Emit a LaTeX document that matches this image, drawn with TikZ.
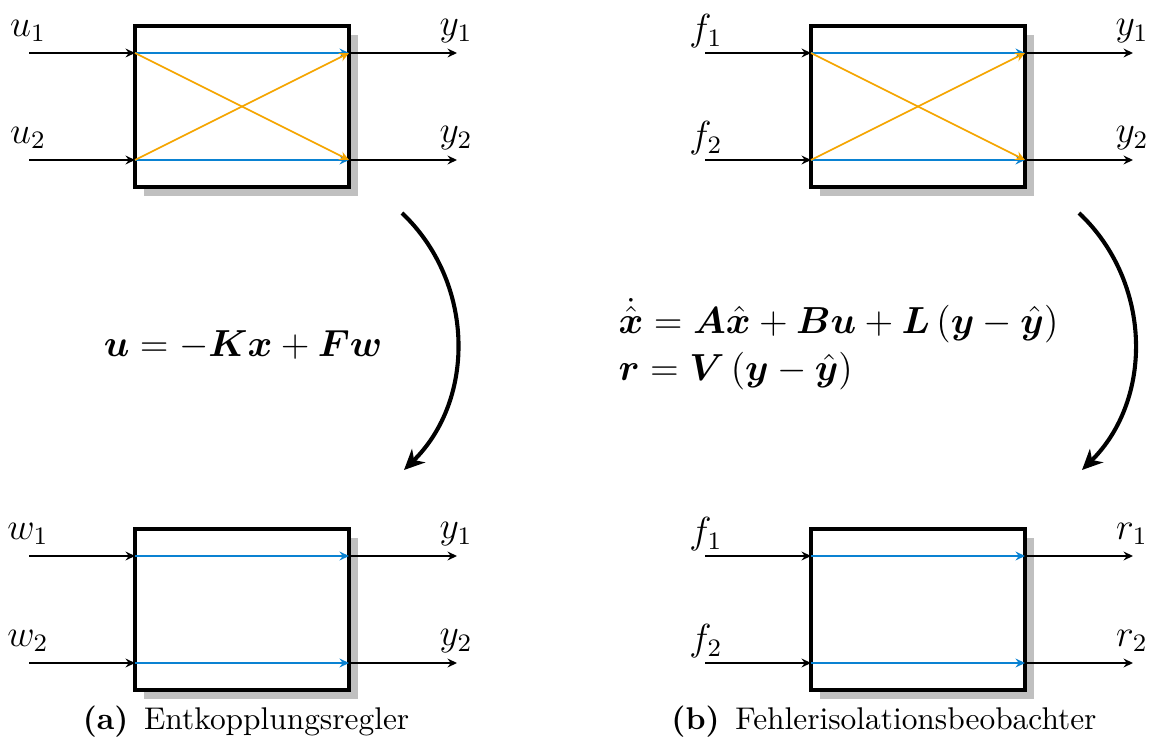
\documentclass[tikz,border=0pt]{standalone}
\usepackage{amsmath}
\usepackage{bm}
\usetikzlibrary{arrows.meta}
\definecolor{sigblue}{RGB}{10,130,210}
\definecolor{sigorange}{RGB}{245,165,0}
\definecolor{shadowgray}{RGB}{192,192,192}
\tikzset{
  sys/.style={draw=black, line width=1.3pt, fill=white, minimum width=214*0.3185pt, minimum height=161*0.3185pt, inner sep=0pt, outer sep=0pt},
  shadowbox/.style={fill=shadowgray, draw=none, minimum width=214*0.3185pt, minimum height=161*0.3185pt, inner sep=0pt, outer sep=0pt},
  sig/.style={line width=0.55pt, -{Stealth[length=3pt,width=2.8pt,inset=1pt]}},
  bluesig/.style={sig, draw=sigblue},
  orangesig/.style={sig, draw=sigorange},
  lab/.style={inner sep=0pt, font=\large},
  bigarrow/.style={line width=1.3pt, -{Stealth[length=6.5pt,width=6pt,inset=2pt]}},
}
\begin{document}
\begin{tikzpicture}[x=0.3185pt, y=-0.3185pt]
\useasboundingbox (0,0) rectangle (1151,742);

% ---------- (a) top ----------
\node[shadowbox] (as1) at (251,115.5) {};
\node[sys] (a1) at (242,106.5) {};
\coordinate (a1i1) at (135,53); \coordinate (a1i2) at (135,160);
\coordinate (a1o1) at (349,53); \coordinate (a1o2) at (349,160);
\coordinate (a1s1) at (29,53); \coordinate (a1s2) at (29,160);
\coordinate (a1e1) at (457,53); \coordinate (a1e2) at (457,160);
\draw[sig] (a1s1) -- (a1i1);
\draw[sig] (a1s2) -- (a1i2);
\draw[sig] (a1o1) -- (a1e1);
\draw[sig] (a1o2) -- (a1e2);
\draw[bluesig] (a1i1) -- (a1o1);
\draw[bluesig] (a1i2) -- (a1o2);
\draw[orangesig] (a1i1) -- (a1o2);
\draw[orangesig] (a1i2) -- (a1o1);
\node[lab] (la1u1) at (28,31) {$u_1$};
\node[lab] (la1u2) at (28,138) {$u_2$};
\node[lab] (la1y1) at (456,31) {$y_1$};
\node[lab] (la1y2) at (456,138) {$y_2$};

% ---------- (a) bottom ----------
\node[shadowbox] (as2) at (251,618.5) {};
\node[sys] (a2) at (242,609.5) {};
\coordinate (a2i1) at (135,556); \coordinate (a2i2) at (135,663);
\coordinate (a2o1) at (349,556); \coordinate (a2o2) at (349,663);
\coordinate (a2s1) at (29,556); \coordinate (a2s2) at (29,663);
\coordinate (a2e1) at (457,556); \coordinate (a2e2) at (457,663);
\draw[sig] (a2s1) -- (a2i1);
\draw[sig] (a2s2) -- (a2i2);
\draw[sig] (a2o1) -- (a2e1);
\draw[sig] (a2o2) -- (a2e2);
\draw[bluesig] (a2i1) -- (a2o1);
\draw[bluesig] (a2i2) -- (a2o2);
\node[lab] (la2w1) at (28,534) {$w_1$};
\node[lab] (la2w2) at (28,641) {$w_2$};
\node[lab] (la2y1) at (456,534) {$y_1$};
\node[lab] (la2y2) at (456,641) {$y_2$};

% ---------- (b) top ----------
\node[shadowbox] (bs1) at (927,115.5) {};
\node[sys] (b1) at (918,106.5) {};
\coordinate (b1i1) at (811,53); \coordinate (b1i2) at (811,160);
\coordinate (b1o1) at (1025,53); \coordinate (b1o2) at (1025,160);
\coordinate (b1s1) at (705,53); \coordinate (b1s2) at (705,160);
\coordinate (b1e1) at (1133,53); \coordinate (b1e2) at (1133,160);
\draw[sig] (b1s1) -- (b1i1);
\draw[sig] (b1s2) -- (b1i2);
\draw[sig] (b1o1) -- (b1e1);
\draw[sig] (b1o2) -- (b1e2);
\draw[bluesig] (b1i1) -- (b1o1);
\draw[bluesig] (b1i2) -- (b1o2);
\draw[orangesig] (b1i1) -- (b1o2);
\draw[orangesig] (b1i2) -- (b1o1);
\node[lab] (lb1f1) at (706,31) {$f_1$};
\node[lab] (lb1f2) at (706,138) {$f_2$};
\node[lab] (lb1y1) at (1132,31) {$y_1$};
\node[lab] (lb1y2) at (1132,138) {$y_2$};

% ---------- (b) bottom ----------
\node[shadowbox] (bs2) at (927,618.5) {};
\node[sys] (b2) at (918,609.5) {};
\coordinate (b2i1) at (811,556); \coordinate (b2i2) at (811,663);
\coordinate (b2o1) at (1025,556); \coordinate (b2o2) at (1025,663);
\coordinate (b2s1) at (705,556); \coordinate (b2s2) at (705,663);
\coordinate (b2e1) at (1133,556); \coordinate (b2e2) at (1133,663);
\draw[sig] (b2s1) -- (b2i1);
\draw[sig] (b2s2) -- (b2i2);
\draw[sig] (b2o1) -- (b2e1);
\draw[sig] (b2o2) -- (b2e2);
\draw[bluesig] (b2i1) -- (b2o1);
\draw[bluesig] (b2i2) -- (b2o2);
\node[lab] (lb2f1) at (706,534) {$f_1$};
\node[lab] (lb2f2) at (706,641) {$f_2$};
\node[lab] (lb2r1) at (1132,534) {$r_1$};
\node[lab] (lb2r2) at (1132,641) {$r_2$};

% ---------- curved arrows ----------
\coordinate (ca1) at (402,213); \coordinate (ca2) at (404,470);
\draw[bigarrow] (ca1) to[bend left=46] (ca2);
\coordinate (cb1) at (1079,213); \coordinate (cb2) at (1082,470);
\draw[bigarrow] (cb1) to[bend left=46] (cb2);

% ---------- equations ----------
\node[font=\large] (eqa) at (243,345) {$\bm{u} = -\bm{K}\bm{x} + \bm{F}\bm{w}$};
\node[font=\large, align=left, anchor=west, inner sep=0pt] (eqb) at (618,344)
  {$\dot{\hat{\bm{x}}} = \bm{A}\hat{\bm{x}} + \bm{B}\bm{u} + \bm{L}\left(\bm{y} - \hat{\bm{y}}\right)$\\[1pt]
   $\bm{r} = \bm{V}\left(\bm{y} - \hat{\bm{y}}\right)$};

% ---------- captions ----------
\node (capa) at (246,722) {\textbf{(a)}\enspace Entkopplungsregler};
\node (capb) at (884,722) {\textbf{(b)}\enspace Fehlerisolationsbeobachter};
\end{tikzpicture}
\end{document}
